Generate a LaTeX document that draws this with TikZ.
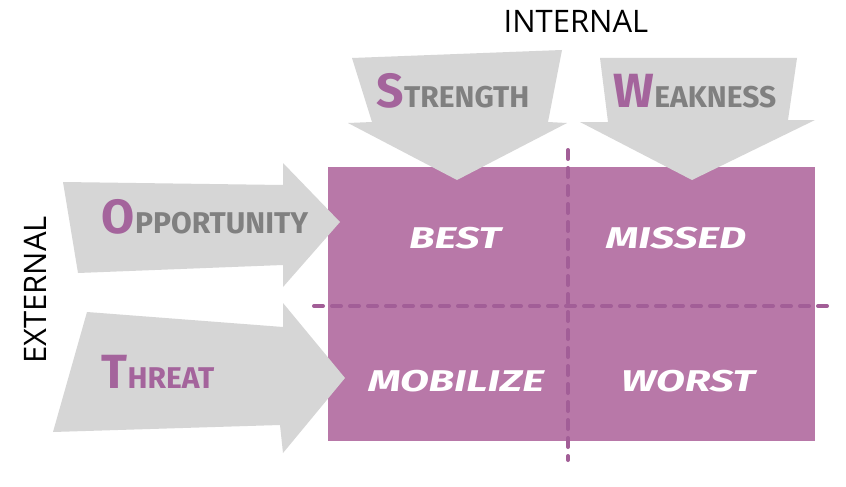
\documentclass[tikz,border=0pt]{standalone}
\usepackage{fontspec}
\setmainfont{Fira Sans}
\newfontfamily\axisfont{Open Sans}
\newfontfamily\handfont{Fira Sans}
\usepackage{xcolor}
\definecolor{arrowgray}{HTML}{D6D6D6}
\definecolor{boxpurple}{HTML}{B878A8}
\definecolor{dashpurple}{HTML}{A25E97}
\definecolor{initialpurple}{HTML}{A4649C}
\definecolor{labelgray}{HTML}{808080}

\tikzset{
  swotlabel/.style={anchor=base, inner sep=0pt, font=\bfseries},
  quadtext/.style={text=white, inner sep=0pt, font=\handfont\bfseries\itshape\fontsize{30}{30}\selectfont},
  axislabel/.style={inner sep=0pt, font=\axisfont\fontsize{31}{31}\selectfont}
}

\newcommand{\swotinitial}[1]{{\fontsize{48}{48}\selectfont #1}}
\newcommand{\swotrest}[1]{{\fontsize{30}{30}\selectfont #1}}
\newcommand{\widetext}[1]{\scalebox{1.4}[1]{#1}}

\begin{document}
\begin{tikzpicture}[x=1pt, y=-1pt]

  % Canvas
  \useasboundingbox (0,0) rectangle (846,487);
  \fill[white] (0,0) rectangle (846,487);

  % Purple matrix
  \fill[boxpurple] (328,167) rectangle (815,441);

  % Strength arrow
  \fill[arrowgray] (352,58) -- (562,50) -- (548,122) -- (567,123)
    -- (457,180) -- (348,123) -- (372,122) -- cycle;

  % Weakness arrow
  \fill[arrowgray] (600,58) -- (797,58) -- (788,120) -- (815,120)
    -- (692,180) -- (580,122) -- (608,122) -- cycle;

  % Opportunity arrow
  \fill[arrowgray] (63,182) -- (283,185) -- (283,163) -- (340,222)
    -- (283,287) -- (283,265) -- (78,273) -- cycle;

  % Threat arrow
  \fill[arrowgray] (87,312) -- (283,327) -- (283,303) -- (345,378)
    -- (283,453) -- (280,425) -- (53,432) -- cycle;

  % Arrow labels
  \node[swotlabel, text=labelgray] (strength) at (453,107)
    {\textcolor{initialpurple}{\swotinitial{S}}\swotrest{TRENGTH}};
  \node[swotlabel, text=labelgray] (weakness) at (695,107)
    {\textcolor{initialpurple}{\swotinitial{W}}\swotrest{EAKNESS}};
  \node[swotlabel, text=labelgray] (opportunity) at (205,233)
    {\textcolor{initialpurple}{\swotinitial{O}}\swotrest{PPORTUNITY}};
  \node[swotlabel, text=initialpurple] (threat) at (158,388)
    {\swotinitial{T}\swotrest{HREAT}};

  % Axis labels
  \node[axislabel] (internal) at (576,21) {INTERNAL};
  \node[axislabel, rotate=90] (external) at (35,290) {EXTERNAL};

  % Quadrant labels
  \node[quadtext] (best) at (455,238) {\widetext{BEST}};
  \node[quadtext] (missed) at (676,238) {\widetext{MISSED}};
  \node[quadtext] (mobilize) at (456,381) {\widetext{MOBILIZE}};
  \node[quadtext] (worst) at (688,381) {\widetext{WORST}};

  % Dashed dividers
  \draw[dashpurple, line width=4pt, line cap=round, dash pattern=on 9pt off 9pt]
    (568,150) -- (568,460);
  \draw[dashpurple, line width=4pt, line cap=round, dash pattern=on 9pt off 9pt]
    (314,306) -- (828,306);

\end{tikzpicture}
\end{document}
